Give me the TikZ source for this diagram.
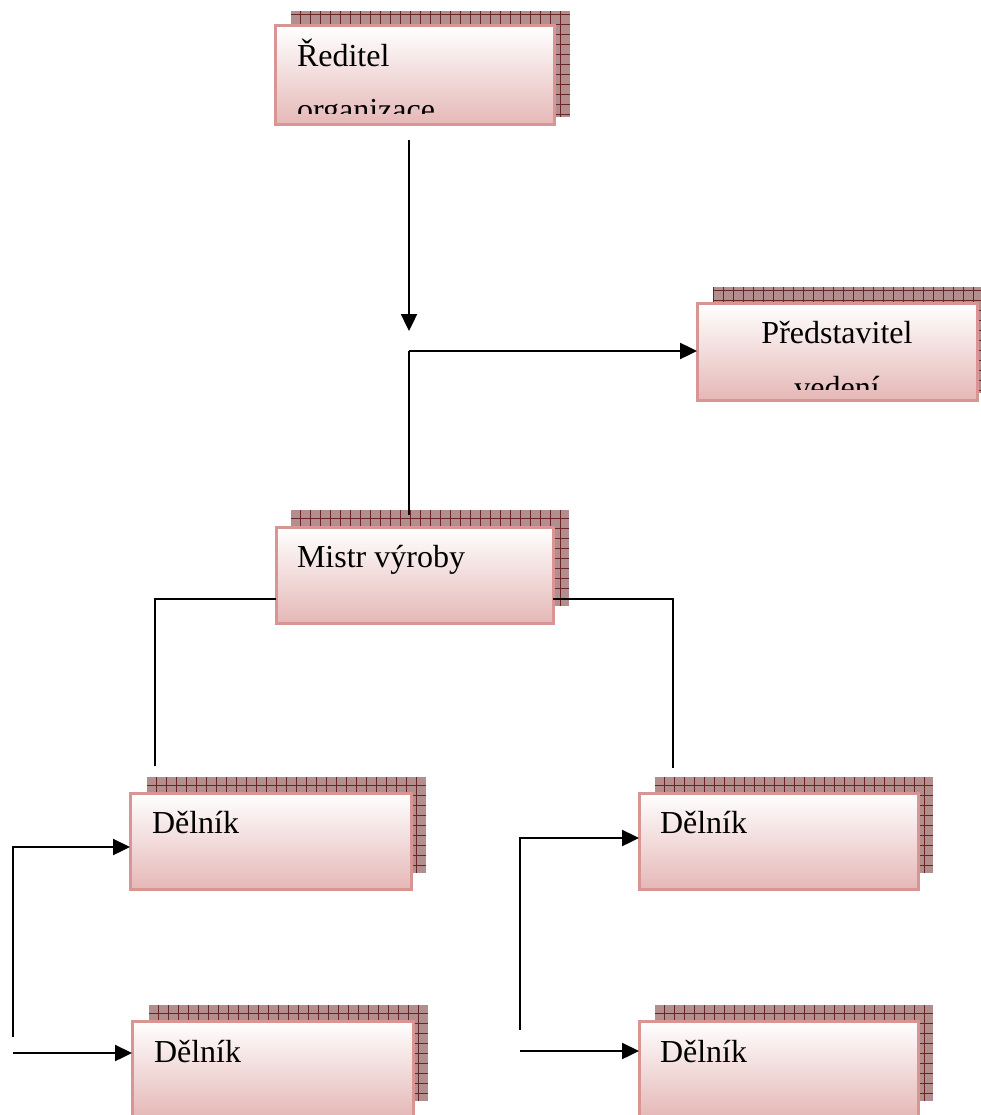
\documentclass[tikz,border=0pt]{standalone}
\usepackage{fontspec}
\setmainfont{Liberation Serif}
\usetikzlibrary{arrows.meta,calc}
\definecolor{boxborder}{RGB}{217,149,148}
\definecolor{boxbottom}{RGB}{229,184,183}
\definecolor{shfill}{RGB}{178,142,142}
\definecolor{shgrid}{RGB}{105,38,38}
\tikzset{
  shbox/.style={anchor=north west, inner sep=0pt, outer sep=0pt, fill=shfill,
    path picture={\draw[shgrid, line width=0.9pt] (path picture bounding box.south west) grid[step=10pt] (path picture bounding box.north east);}},
  mbox/.style={anchor=north west, inner sep=0pt, outer sep=0pt, draw=boxborder, line width=3pt,
    top color=white, bottom color=boxbottom},
  lbl/.style={inner sep=0pt, outer sep=0pt, minimum width=0pt, minimum height=0pt,
    text=black, font=\fontsize{32pt}{38pt}\selectfont},
  conn/.style={line width=2.4pt, black},
  arr/.style={conn, -{Triangle[length=17pt,width=16pt]}},
}
\newcommand{\boxclip}{\clip (path picture bounding box.north west) rectangle ([shift={(0,-11)}]path picture bounding box.south east);}
\begin{document}
\begin{tikzpicture}[x=1pt, y=-1pt]
\useasboundingbox (0,0) rectangle (981,1115);
\clip (0,0) rectangle (981,1115);

% shadows
\node[shbox, minimum width=279pt, minimum height=106pt] (s1) at (291,11) {};
\node[shbox, minimum width=280pt, minimum height=106pt] (s2) at (713,287) {};
\node[shbox, minimum width=278pt, minimum height=96pt] (s3) at (291,510) {};
\node[shbox, minimum width=279pt, minimum height=96pt] (s4) at (147,777) {};
\node[shbox, minimum width=279pt, minimum height=96pt] (s5) at (149,1005) {};
\node[shbox, minimum width=278pt, minimum height=96pt] (s6) at (655,777) {};
\node[shbox, minimum width=278pt, minimum height=96pt] (s7) at (655,1005) {};

% main boxes
\node[mbox, minimum width=279pt, minimum height=99pt,
  path picture={\boxclip
    \node[lbl, anchor=base west] (t1a) at ([shift={(22,41)}]path picture bounding box.north west) {Ředitel};
    \node[lbl, anchor=base west] (t1b) at ([shift={(22,95)}]path picture bounding box.north west) {organizace};
  }] (b1) at (275,26) {};
\node[mbox, minimum width=280pt, minimum height=97pt,
  path picture={\boxclip
    \node[lbl, anchor=base] (t2a) at ([shift={(140,40)}]path picture bounding box.north west) {Představitel};
    \node[lbl, anchor=base] (t2b) at ([shift={(140,95)}]path picture bounding box.north west) {vedení};
  }] (b2) at (697,303) {};
\node[mbox, minimum width=277pt, minimum height=96pt,
  path picture={\boxclip
    \node[lbl, anchor=base west] (t3) at ([shift={(21,40)}]path picture bounding box.north west) {Mistr výroby};
  }] (b3) at (276,527) {};
\node[mbox, minimum width=281pt, minimum height=96pt,
  path picture={\boxclip
    \node[lbl, anchor=base west] (t4) at ([shift={(22,40)}]path picture bounding box.north west) {Dělník};
  }] (b4) at (130,793) {};
\node[mbox, minimum width=281pt, minimum height=96pt,
  path picture={\boxclip
    \node[lbl, anchor=base west] (t5) at ([shift={(22,41)}]path picture bounding box.north west) {Dělník};
  }] (b5) at (132,1021) {};
\node[mbox, minimum width=279pt, minimum height=96pt,
  path picture={\boxclip
    \node[lbl, anchor=base west] (t6) at ([shift={(21,40)}]path picture bounding box.north west) {Dělník};
  }] (b6) at (639,793) {};
\node[mbox, minimum width=279pt, minimum height=96pt,
  path picture={\boxclip
    \node[lbl, anchor=base west] (t7) at ([shift={(21,41)}]path picture bounding box.north west) {Dělník};
  }] (b7) at (639,1021) {};

% connector coordinates
\coordinate (a1) at (409,140);
\coordinate (a2) at (409,331);
\coordinate (j) at (409,351);
\coordinate (l1) at (155,599);
\coordinate (l2) at (155,766);
\coordinate (r1) at (673,599);
\coordinate (r2) at (673,768);
\coordinate (p1) at (13,1037);
\coordinate (p2) at (13,847);
\coordinate (p3) at (13,1053);
\coordinate (q1) at (520,1030);
\coordinate (q2) at (520,838);
\coordinate (q3) at (520,1051);

% connectors
\draw[arr] (a1) -- (a2);
\draw[arr] (j) -- (j -| b2.west);
\draw[conn] (j) -- ($(j |- s3.north)+(0,5)$);
\draw[conn] (b3.west |- l1) -- (l1) -- (l2);
\draw[conn] (b3.east |- r1) -- (r1) -- (r2);
\draw[arr] (p1) -- (p2) -- (b4.west |- p2);
\draw[arr] (p3) -- (b5.west |- p3);
\draw[arr] (q1) -- (q2) -- (b6.west |- q2);
\draw[arr] (q3) -- (b7.west |- q3);
\end{tikzpicture}
\end{document}
